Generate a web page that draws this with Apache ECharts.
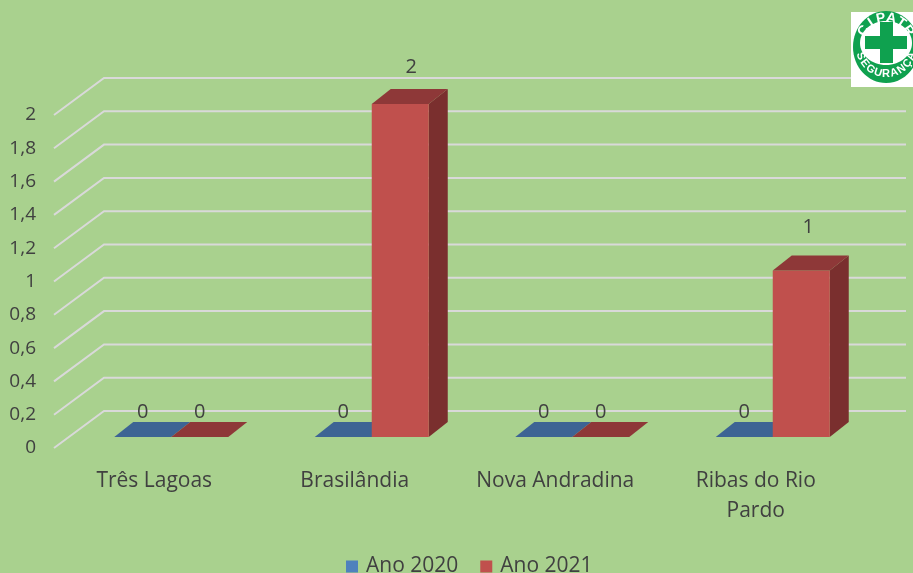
<!DOCTYPE html>
<html>
<head>
<meta charset="UTF-8">
<title>CIPATR</title>
<style>
html, body { margin: 0; padding: 0; background: #a9d18e; }
#main { width: 913px; height: 573px; }
</style>
<script src="https://cdn.jsdelivr.net/npm/echarts@6/dist/echarts.min.js"></script>
</head>
<body>
<div id="main"></div>
<script>
var categories = ['Três Lagoas', 'Brasilândia', 'Nova Andradina', 'Ribas do Rio\nPardo'];
var ano2020 = [0, 0, 0, 0];
var ano2021 = [0, 2, 0, 1];
var yTicks = [0, 0.2, 0.4, 0.6, 0.8, 1, 1.2, 1.4, 1.6, 1.8, 2];

var FONT = '"Open Sans", "Noto Sans", sans-serif';
var TEXT = '#404040';
var WALL = [50, -37]; // from the floor front edge to the back wall
var SEAT = [17, -11]; // where the bars stand on the floor
var BAR_W = 57;
var BAR_D = [19, -15];

// 3d box: front + top + side, label above
function boxItem(colors, side) {
  return function (params, api) {
    var i = api.value(0), v = api.value(1);
    var base = api.coord([i, 0]);
    var top = api.coord([i, v]);
    var x0 = base[0] + SEAT[0] + (side < 0 ? -BAR_W : 0);
    var x1 = x0 + BAR_W;
    var yb = base[1] + SEAT[1];
    var yt = top[1] + SEAT[1];
    var dx = BAR_D[0], dy = BAR_D[1];
    var lx = (x0 + x1) / 2, ly = yt - 25;
    if (v === 2) { lx += 11; ly = yt - 37; }
    if (v === 1) { lx += 7; ly = yt - 43; }
    var kids = [];
    if (v > 0) {
      kids.push({ type: 'polygon', shape: { points: [[x1, yb], [x1 + dx, yb + dy], [x1 + dx, yt + dy], [x1, yt]] }, style: { fill: colors.side } });
      kids.push({ type: 'rect', shape: { x: x0, y: yt, width: BAR_W, height: yb - yt }, style: { fill: colors.front } });
    }
    kids.push({ type: 'polygon', shape: { points: [[x0, yt], [x0 + dx, yt + dy], [x1 + dx, yt + dy], [x1, yt]] }, style: { fill: colors.top } });
    kids.push({ type: 'text', style: { text: String(v), x: lx, y: ly, fill: TEXT, font: '20px ' + FONT, textAlign: 'center', textVerticalAlign: 'middle' } });
    return { type: 'group', children: kids };
  };
}

// grid lines run over the floor stub and then along the back wall
function wallLine(params, api) {
  var p = api.coord([0, api.value(0)]);
  var box = params.coordSys;
  var x = box.x, y = p[1];
  return {
    type: 'polyline',
    shape: { points: [[x, y], [x + WALL[0], y + WALL[1]], [x + box.width + WALL[0], y + WALL[1]]] },
    style: { stroke: '#d9d9d9', lineWidth: 2, fill: null }
  };
}

function pairs(values) {
  return values.map(function (v, i) { return [i, v]; });
}

// logo
var LOGO = { cx: 886, cy: 47, rx: 33, ry: 36 };
function logoLetters(word, from, to, rx, ry, size, bottom) {
  return word.split('').map(function (ch, i) {
    var a = (from + (to - from) * i / (word.length - 1)) * Math.PI / 180;
    return {
      type: 'text',
      x: LOGO.cx + Math.sin(a) * rx,
      y: LOGO.cy + (bottom ? 1 : -1) * Math.cos(a) * ry,
      rotation: bottom ? a : -a,
      z: 12,
      style: { text: ch, fill: '#fff', font: 'bold ' + size + 'px "Liberation Sans", sans-serif', textAlign: 'center', textVerticalAlign: 'middle' }
    };
  });
}

var myChart = echarts.init(document.getElementById('main'));
var option = {
  animation: false,
  backgroundColor: '#a9d18e',
  grid: { left: 54, right: 57, top: 115, height: 333 },
  legend: {
    data: ['Ano 2020', 'Ano 2021'],
    left: 341,
    top: 551,
    icon: 'rect',
    itemWidth: 12,
    itemHeight: 12,
    itemGap: 22,
    textStyle: { color: TEXT, fontFamily: FONT, fontSize: 21, padding: [0, 0, 0, 3] }
  },
  xAxis: {
    type: 'category',
    data: categories,
    axisLine: { show: false },
    axisTick: { show: false },
    axisLabel: { interval: 0, color: TEXT, fontFamily: FONT, fontSize: 21, lineHeight: 30, margin: 18 }
  },
  yAxis: {
    type: 'value',
    min: 0,
    max: 2,
    interval: 0.2,
    splitLine: { show: false },
    axisLine: { show: false },
    axisTick: { show: false },
    axisLabel: {
      color: TEXT, fontFamily: FONT, fontSize: 19, margin: 18, padding: [0, 0, 0, 0],
      formatter: function (v) { return String(v).replace('.', ','); }
    }
  },
  series: [
    { type: 'custom', name: 'grade', z: 1, silent: true, data: yTicks.map(function (t) { return [t]; }), encode: { y: 0 }, renderItem: wallLine },
    { type: 'custom', name: 'Ano 2020', z: 3, itemStyle: { color: '#4f81bd' }, data: pairs(ano2020), encode: { x: 0, y: 1 },
      renderItem: boxItem({ front: '#4f81bd', top: '#3d6494', side: '#325178' }, -1) },
    { type: 'custom', name: 'Ano 2021', z: 4, itemStyle: { color: '#c0504d' }, data: pairs(ano2021), encode: { x: 0, y: 1 },
      renderItem: boxItem({ front: '#c0504d', top: '#8e3838', side: '#7a2f2e' }, 1) }
  ],
  graphic: [
    { type: 'rect', z: 10, shape: { x: 851, y: 12, width: 62, height: 75 }, style: { fill: '#fff' } },
    { type: 'ellipse', z: 11, shape: { cx: LOGO.cx, cy: LOGO.cy, rx: LOGO.rx, ry: LOGO.ry }, style: { fill: '#0fa14f' } },
    { type: 'ellipse', z: 11, shape: { cx: 886, cy: 43, rx: 26, ry: 22 }, style: { fill: '#fff' } },
    { type: 'rect', z: 12, shape: { x: 880, y: 22, width: 13, height: 41 }, style: { fill: '#0fa14f' } },
    { type: 'rect', z: 12, shape: { x: 865, y: 36, width: 42, height: 13 }, style: { fill: '#0fa14f' } }
  ].concat(logoLetters('CIPATR', -56, 56, 27, 29, 14, false), logoLetters('SEGURANÇA', -70, 70, 27, 27, 11, true))
};
myChart.setOption(option);
</script>
</body>
</html>
